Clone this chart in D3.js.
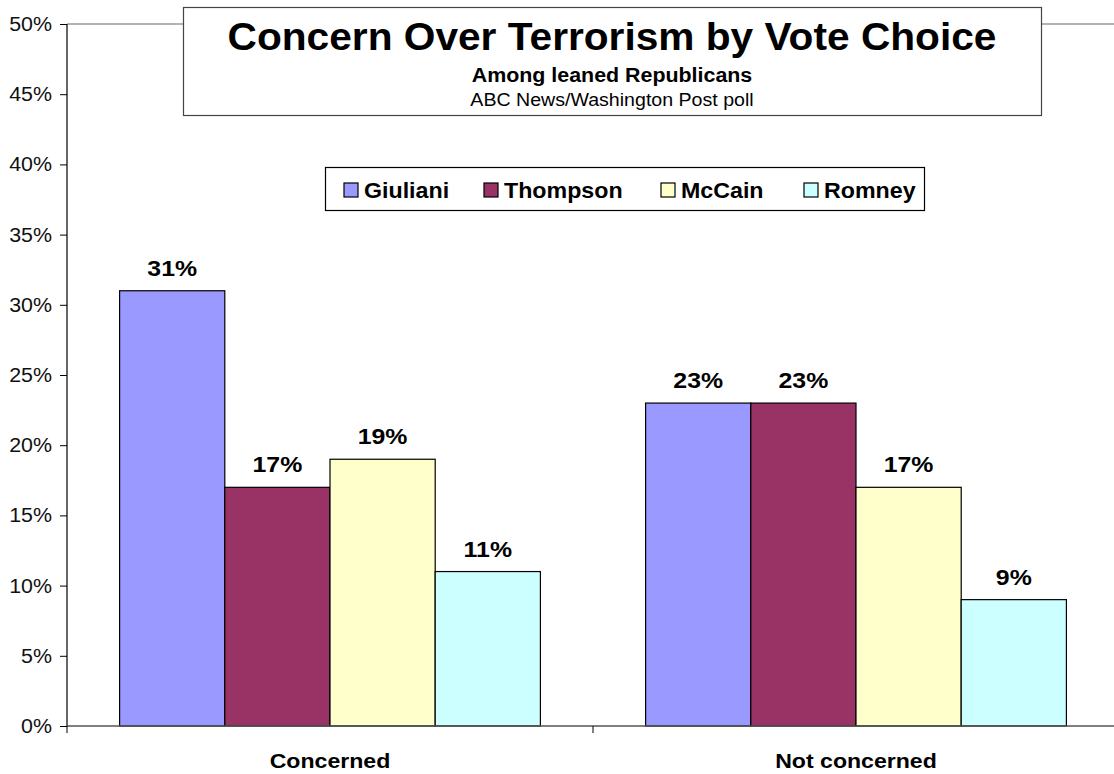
<!DOCTYPE html>
<html><head><meta charset="utf-8">
<script src="https://cdnjs.cloudflare.com/ajax/libs/d3/7.8.5/d3.min.js"></script>
<style>body{margin:0;background:#fff;} svg{display:block;font-family:Arial,"Liberation Sans",sans-serif;}</style>
</head><body>
<svg id="c" width="1114" height="774"></svg>
<script>
const categories = ["Concerned", "Not concerned"];
const seriesNames = ["Giuliani", "Thompson", "McCain", "Romney"];
const seriesColors = ["#9999FF", "#993366", "#FFFFCC", "#CCFFFF"];
const giuliani = [31, 23];
const thompson = [17, 23];
const mccain = [19, 17];
const romney = [11, 9];
const yTicks = [0, 5, 10, 15, 20, 25, 30, 35, 40, 45, 50];
const titleText = "Concern Over Terrorism by Vote Choice";
const subtitle1 = "Among leaned Republicans";
const subtitle2 = "ABC News/Washington Post poll";

const values = [giuliani, thompson, mccain, romney];
const svg = d3.select("#c");
const m = {left: 67, top: 24, right: 1119, bottom: 726};

const x0 = d3.scaleBand().domain(categories).range([m.left, m.right]).paddingInner(0).paddingOuter(0);
const x1 = d3.scaleBand().domain(seriesNames).range([0, x0.bandwidth()]).paddingOuter(0.5).paddingInner(0);
const y = d3.scaleLinear().domain([0, 50]).range([m.bottom, m.top]);

function txt(parent, x, yy, s, size, opts = {}) {
  const sx = opts.sx || 1.1;
  const t = parent.append("text")
    .attr("transform", `translate(${x},${yy}) scale(${sx},1)`)
    .attr("font-size", size)
    .attr("text-anchor", opts.anchor || "middle")
    .attr("font-weight", opts.bold === false ? "normal" : "bold")
    .attr("fill", opts.fill || "#000")
    .text(s);
  return t;
}

// top border line (gray)
svg.append("line").attr("x1", m.left).attr("x2", 1114).attr("y1", y(50)).attr("y2", y(50))
  .attr("stroke", "#999").attr("stroke-width", 1.5);

// bars
categories.forEach((c, ci) => {
  seriesNames.forEach((s, si) => {
    const v = values[si][ci];
    const bx = x0(c) + x1(s);
    svg.append("rect").attr("x", bx).attr("y", y(v)).attr("width", x1.bandwidth()).attr("height", y(0) - y(v))
      .attr("fill", seriesColors[si]).attr("stroke", "#000").attr("stroke-width", 1.2);
    txt(svg, bx + x1.bandwidth() / 2, y(v) - 15, v + "%", 22, {sx: 1.13});
  });
});

// y axis
const yAxis = d3.axisLeft(y).tickValues(yTicks).tickFormat("").tickSize(7);
const gy = svg.append("g").attr("transform", `translate(${m.left},0)`).call(yAxis);
gy.select(".domain").attr("stroke", "#000").attr("stroke-width", 1.2).attr("d", `M0,${m.top}V${m.bottom}`);
gy.selectAll(".tick line").attr("stroke", "#000");
yTicks.forEach(t => {
  txt(svg, 52, y(t) + 7, t + "%", 20, {anchor: "end", bold: false, sx: 1.07, fill: "#111"});
});

// x axis
const gx = svg.append("g").attr("transform", `translate(0,${m.bottom})`);
gx.append("line").attr("x1", m.left).attr("x2", 1114).attr("y1", 0).attr("y2", 0).attr("stroke", "#555").attr("stroke-width", 1.5);
[m.left, x0(categories[1])].forEach(tx => {
  gx.append("line").attr("x1", tx).attr("x2", tx).attr("y1", 0).attr("y2", 7).attr("stroke", "#000");
});
categories.forEach(c => {
  txt(gx, x0(c) + x0.bandwidth() / 2, 42, c, 21, {sx: 1.1});
});

// title box
svg.append("rect").attr("x", 183.5).attr("y", 7.5).attr("width", 858).attr("height", 108)
  .attr("fill", "#fff").attr("stroke", "#444").attr("stroke-width", 1.2);
txt(svg, 612, 50, titleText, 38, {sx: 1.07});
txt(svg, 612, 82, subtitle1, 20, {sx: 1.07});
txt(svg, 612, 106, subtitle2, 17.5, {bold: false, sx: 1.12});

// legend
svg.append("rect").attr("x", 325.5).attr("y", 167.5).attr("width", 599).attr("height", 43)
  .attr("fill", "#fff").attr("stroke", "#000").attr("stroke-width", 1.2);
const legX = [344, 484, 661, 804];
seriesNames.forEach((s, i) => {
  svg.append("rect").attr("x", legX[i]).attr("y", 183).attr("width", 14).attr("height", 14)
    .attr("fill", seriesColors[i]).attr("stroke", "#000").attr("stroke-width", 1.2);
  txt(svg, legX[i] + 20, 198, s, 21.5, {anchor: "start", sx: 1.08});
});
</script>
</body></html>
